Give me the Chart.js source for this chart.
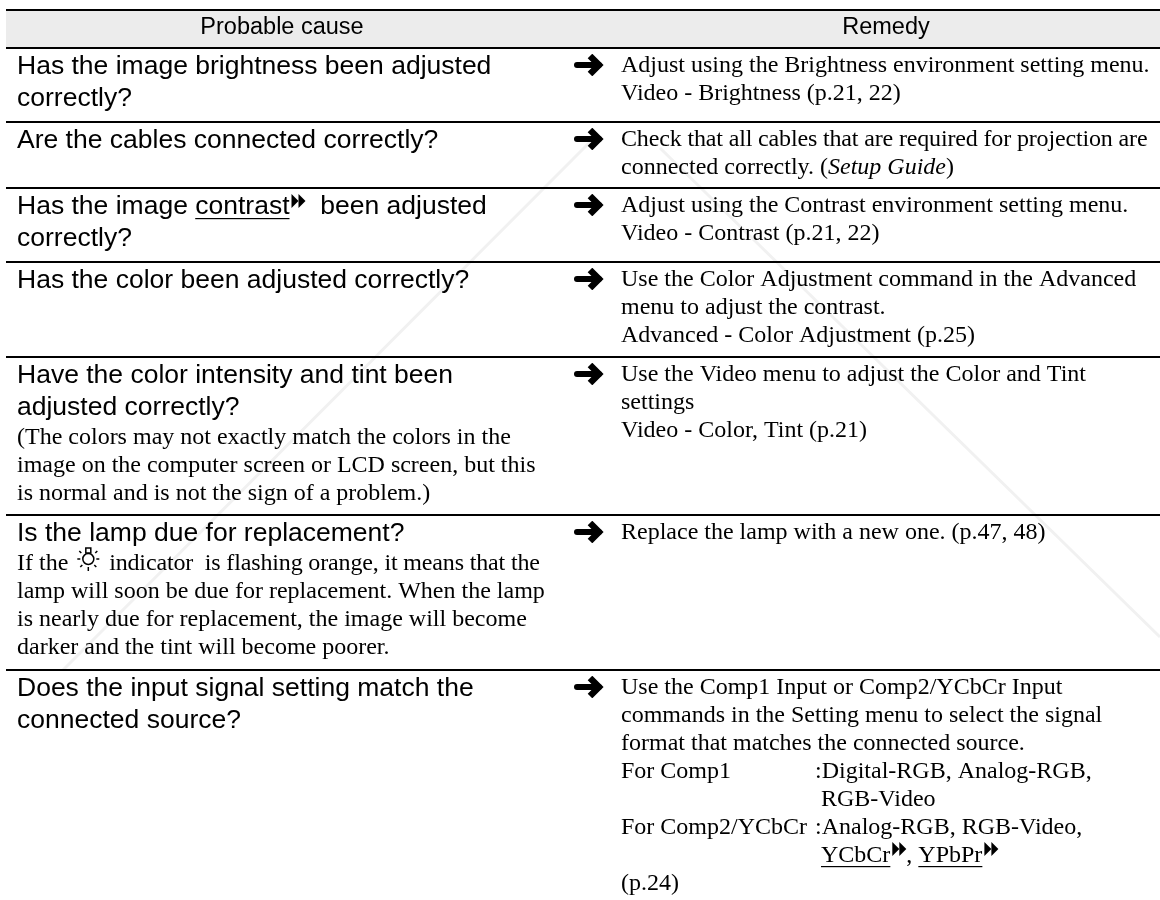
<!DOCTYPE html>
<html>
<head>
<meta charset="utf-8">
<title>Probable cause and remedy</title>
<script src="https://cdn.jsdelivr.net/npm/chart.js@4"></script>
<style>
  html, body { margin: 0; padding: 0; background: #fff; }
  canvas { display: block; }
</style>
</head>
<body>
<canvas id="tableChart" width="1160" height="900"></canvas>
<script>
// markup in the lines: [u]..[/u] underline, [i]..[/i] italic, [>>] glossary mark, [lamp] icon,
// [t] tighter letters for the rest of the line, \t tab stop
const headers = ['Probable cause', 'Remedy'];
const ruleY = [10, 48, 122, 188, 262, 357, 515, 670];

const causeTitles = [
    ['Has the image brightness been adjusted', 'correctly?'],
    ['Are the cables connected correctly?'],
    ['Has the image [u]contrast[/u][>>]  been adjusted', 'correctly?'],
    ['Has the color been adjusted correctly?'],
    ['Have the color intensity and tint been', 'adjusted correctly?'],
    ['Is the lamp due for replacement?'],
    ['Does the input signal setting match the', 'connected source?']
];
const causeNotes = [
    [], [], [], [],
    ['(The colors may not exactly match the colors in the',
     'image on the computer screen or LCD screen, but this',
     'is normal and is not the sign of a problem.)'],
    ['If the [lamp][t] indicator  is flashing orange, it means that the',
     'lamp will soon be due for replacement. When the lamp',
     'is nearly due for replacement, the image will become',
     'darker and the tint will become poorer.'],
    []
];
const remedyLines = [
    ['Adjust using the Brightness environment setting menu.', 'Video - Brightness (p.21, 22)'],
    ['[t]Check that all cables that are required for projection are', 'connected correctly. ([i]Setup Guide[/i])'],
    ['Adjust using the Contrast environment setting menu.', 'Video - Contrast (p.21, 22)'],
    ['Use the Color Adjustment command in the Advanced', 'menu to adjust the contrast.', 'Advanced - Color Adjustment (p.25)'],
    ['Use the Video menu to adjust the Color and Tint', 'settings', 'Video - Color, Tint (p.21)'],
    ['Replace the lamp with a new one. (p.47, 48)'],
    ['Use the Comp1 Input or Comp2/YCbCr Input',
     'commands in the Setting menu to select the signal',
     'format that matches the connected source.',
     'For Comp1\t:Digital-RGB, Analog-RGB,',
     '\t RGB-Video',
     'For Comp2/YCbCr\t:Analog-RGB, RGB-Video,',
     '\t [u]YCbCr[/u][>>], [u]YPbPr[/u][>>]',
     '(p.24)']
];
const watermarkLeftX = [63, 590];
const watermarkLeftY = [670, 142];
const watermarkRightX = [660, 1160];
const watermarkRightY = [148, 637];

const sansFont = '26.5px "Liberation Sans"';
const headFont = '23.5px "Liberation Sans"';
const serifFont = '24px "Liberation Serif"';
const italicFont = 'italic 24px "Liberation Serif"';
const leftX = 17, rightX = 621, arrowX = 589, tabX = 815;
const tableLeft = 6, tableRight = 1160;

function arrowSprite() {
    let c = document.createElement('canvas');
    c.width = 32; c.height = 22;
    let g = c.getContext('2d');
    g.strokeStyle = '#000';
    g.lineCap = 'round';
    g.lineJoin = 'miter';
    g.lineWidth = 6;
    g.beginPath(); g.moveTo(4, 11); g.lineTo(26, 11); g.stroke();
    g.lineCap = 'butt';
    g.lineWidth = 6.5;
    g.beginPath(); g.moveTo(17, 2); g.lineTo(26, 11); g.lineTo(17, 20); g.stroke();
    return c;
}

function drawLamp(g, x, y) {
    g.save();
    g.strokeStyle = '#000';
    g.lineWidth = 1.5;
    g.beginPath(); g.arc(x, y, 5.5, 0, Math.PI * 2); g.stroke();
    g.strokeRect(x - 2.5, y - 11, 5, 5);
    let rays = [[-9, -8, -7, -6], [9, -8, 7, -6], [-11, 0, -8, 0], [11, 0, 8, 0], [-8, 8, -6, 6], [8, 8, 6, 6], [0, 12, 0, 8]];
    rays.forEach(function(r) {
        g.beginPath(); g.moveTo(x + r[0], y + r[1]); g.lineTo(x + r[2], y + r[3]); g.stroke();
    });
    g.restore();
}

function drawMark(g, x, y) {
    g.fillStyle = '#000';
    [0, 7].forEach(function(dx) {
        g.beginPath();
        g.moveTo(x + dx, y - 20);
        g.lineTo(x + dx + 7, y - 13);
        g.lineTo(x + dx, y - 6);
        g.closePath();
        g.fill();
    });
}

// one line with the little markup above, draws left to right
function drawLine(g, line, px, py, font) {
    let parts = line.split(/(\[u\]|\[\/u\]|\[i\]|\[\/i\]|\[>>\]|\[lamp\]|\[t\]|\t)/);
    let x = px, underline = false, current = font;
    g.letterSpacing = '0px';
    parts.forEach(function(p) {
        if (p === '[u]') underline = true;
        else if (p === '[/u]') underline = false;
        else if (p === '[i]') current = italicFont;
        else if (p === '[/i]') current = font;
        else if (p === '[t]') g.letterSpacing = '-0.15px';
        else if (p === '\t') x = tabX;
        else if (p === '[>>]') { drawMark(g, x + 2, py); x += 16; }
        else if (p === '[lamp]') { drawLamp(g, x + 14, py - 11); x += 29; }
        else if (p) {
            g.font = current;
            g.fillStyle = '#000';
            g.fillText(p, x, py);
            let w = g.measureText(p).width;
            if (underline) g.fillRect(x, py + 4, w, 1.2);
            x += w;
        }
    });
    g.letterSpacing = '0px';
}

const tablePlugin = {
    id: 'tablePlugin',
    beforeDatasetsDraw(chart) {
        let g = chart.ctx, sx = chart.scales.x, sy = chart.scales.y;
        g.save();
        g.fillStyle = '#ececec';
        g.fillRect(sx.getPixelForValue(tableLeft), sy.getPixelForValue(ruleY[0]),
            sx.getPixelForValue(tableRight) - sx.getPixelForValue(tableLeft),
            sy.getPixelForValue(ruleY[1]) - sy.getPixelForValue(ruleY[0]));
        g.restore();
    },
    afterDatasetsDraw(chart) {
        let g = chart.ctx, sx = chart.scales.x, sy = chart.scales.y;
        g.save();
        g.textBaseline = 'alphabetic';
        g.textAlign = 'center';
        g.font = headFont;
        g.fillStyle = '#000';
        g.fillText(headers[0], sx.getPixelForValue(282), sy.getPixelForValue(34));
        g.fillText(headers[1], sx.getPixelForValue(886), sy.getPixelForValue(34));
        g.textAlign = 'left';
        for (let i = 0; i < causeTitles.length; i++) {
            let top = ruleY[i + 1];
            let y = top + 26;
            causeTitles[i].forEach(function(t) {
                drawLine(g, t, sx.getPixelForValue(leftX), sy.getPixelForValue(y), sansFont);
                y += 32;
            });
            y -= 3;
            causeNotes[i].forEach(function(t) {
                drawLine(g, t, sx.getPixelForValue(leftX), sy.getPixelForValue(y), serifFont);
                y += 28;
            });
            y = top + 24;
            remedyLines[i].forEach(function(t) {
                drawLine(g, t, sx.getPixelForValue(rightX), sy.getPixelForValue(y), serifFont);
                y += 28;
            });
        }
        g.restore();
    }
};

let datasets = [];
ruleY.forEach(function(y) {
    datasets.push({
        data: [{x: tableLeft, y: y}, {x: tableRight, y: y}],
        showLine: true, borderColor: '#000', borderWidth: 2, pointRadius: 0
    });
});
datasets.push({
    data: ruleY.slice(1).map(function(y) { return {x: arrowX, y: y + 17}; }),
    showLine: false, pointStyle: arrowSprite(), pointRadius: 10
});
datasets.push({
    data: watermarkLeftX.map(function(x, i) { return {x: x, y: watermarkLeftY[i]}; }),
    showLine: true, borderColor: '#f1f1f1', borderWidth: 3, pointRadius: 0
});
datasets.push({
    data: watermarkRightX.map(function(x, i) { return {x: x, y: watermarkRightY[i]}; }),
    showLine: true, borderColor: '#f1f1f1', borderWidth: 3, pointRadius: 0
});

new Chart(document.getElementById('tableChart'), {
    type: 'scatter',
    data: {datasets: datasets},
    options: {
        responsive: false,
        animation: false,
        layout: {padding: 0, autoPadding: false},
        plugins: {legend: {display: false}, tooltip: {enabled: false}},
        scales: {
            x: {type: 'linear', min: 0, max: 1160, display: false},
            y: {type: 'linear', min: 0, max: 900, reverse: true, display: false}
        }
    },
    plugins: [tablePlugin]
});
</script>
</body>
</html>
